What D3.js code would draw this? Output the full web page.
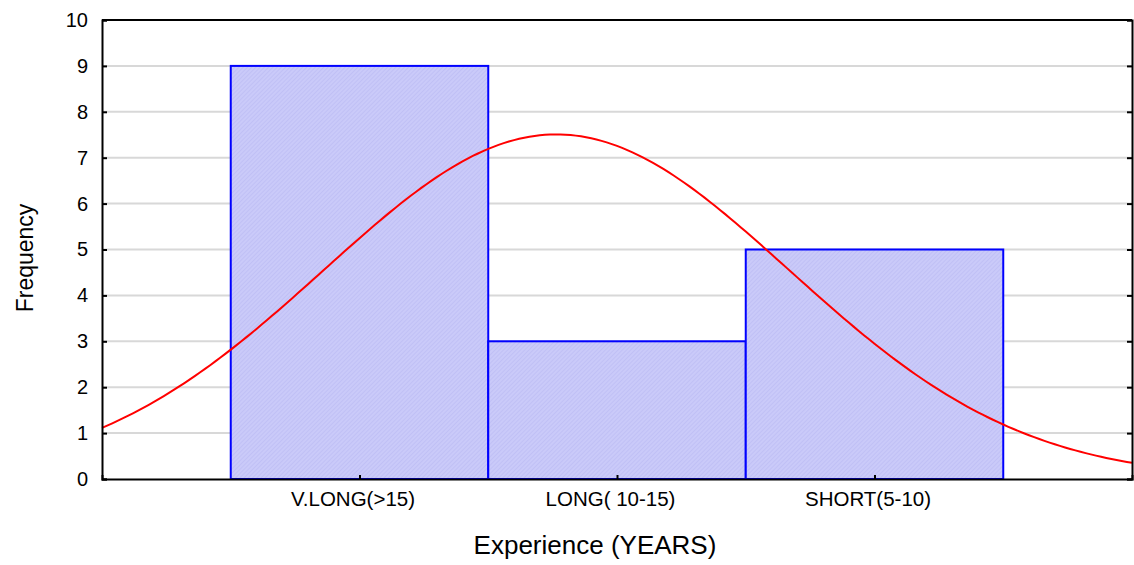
<!DOCTYPE html>
<html>
<head>
<meta charset="utf-8">
<script src="https://cdn.jsdelivr.net/npm/d3@7"></script>
<style>
body { margin: 0; background: #fff; }
text { font-family: Arial, "Liberation Sans", sans-serif; fill: #000; }
</style>
</head>
<body>
<div id="chart"></div>
<script>
var width = 1134;
var height = 565;

// histogram bins and counts
var categories = ["V.LONG(>15)", "LONG( 10-15)", "SHORT(5-10)"];
var frequencies = [9, 3, 5];
var yTicks = [0, 1, 2, 3, 4, 5, 6, 7, 8, 9, 10];

var plotLeft = 102, plotRight = 1132, plotTop = 20, plotBottom = 479;

var svg = d3.select("#chart")
	.append("svg")
	.attr("width", width)
	.attr("height", height);

// hatch pattern for the bars
var defs = svg.append("defs");
var pat = defs.append("pattern")
	.attr("id", "hatch")
	.attr("patternUnits", "userSpaceOnUse")
	.attr("width", 3)
	.attr("height", 3)
	.attr("patternTransform", "rotate(45)");
pat.append("rect").attr("width", 3).attr("height", 3).attr("fill", "#cacaf9");
pat.append("line").attr("x1", 0).attr("y1", 0).attr("x2", 0).attr("y2", 3)
	.attr("stroke", "#b6b6f2").attr("stroke-width", 1);

// bins sit at positions 1,2,3 on a 0..4 axis
var xScale = d3.scaleLinear().domain([0, categories.length + 1]).range([plotLeft, plotRight]);
var yScale = d3.scaleLinear().domain([0, 10]).range([plotBottom, plotTop]);

// gridlines
svg.append("g")
	.selectAll("line")
	.data(yTicks.filter(function(d) { return d > 0 && d < 10; }))
	.enter()
	.append("line")
	.attr("x1", plotLeft)
	.attr("x2", plotRight)
	.attr("y1", function(d) { return yScale(d); })
	.attr("y2", function(d) { return yScale(d); })
	.attr("stroke", "#d8d8d8")
	.attr("stroke-width", 2);

// bars
svg.append("g")
	.selectAll("rect")
	.data(frequencies)
	.enter()
	.append("rect")
	.attr("x", function(d, i) { return xScale(i + 0.5); })
	.attr("y", function(d) { return yScale(d); })
	.attr("width", function(d, i) { return xScale(i + 1.5) - xScale(i + 0.5); })
	.attr("height", function(d) { return yScale(0) - yScale(d); })
	.attr("fill", "url(#hatch)")
	.attr("stroke", "#0000ff")
	.attr("stroke-width", 2);

// fitted normal curve from the counts
var n = d3.sum(frequencies);
var mean = d3.sum(frequencies, function(d, i) { return d * (i + 1); }) / n;
var variance = d3.sum(frequencies, function(d, i) { return d * Math.pow(i + 1 - mean, 2); }) / (n - 1);
var sd = Math.sqrt(variance);
var xs = d3.range(0, categories.length + 1.001, 0.02);
var curve = d3.line()
	.x(function(d) { return xScale(d); })
	.y(function(d) {
		return yScale(n / (sd * Math.sqrt(2 * Math.PI)) * Math.exp(-Math.pow(d - mean, 2) / (2 * variance)));
	});
svg.append("path")
	.datum(xs)
	.attr("d", curve)
	.attr("fill", "none")
	.attr("stroke", "#ff0000")
	.attr("stroke-width", 2);

// axes
var yAxis = d3.axisLeft(yScale).tickValues(yTicks).tickSize(-5).tickPadding(14).tickFormat(d3.format("d"));
var gy = svg.append("g").attr("transform", "translate(" + plotLeft + ",0)").call(yAxis);
gy.selectAll("text").style("font-size", "20px");

var yAxisR = d3.axisRight(yScale).tickValues(yTicks).tickSize(-5).tickFormat("");
svg.append("g").attr("transform", "translate(" + plotRight + ",0)").call(yAxisR);

var xAxis = d3.axisBottom(xScale).tickValues([1, 2, 3]).tickSize(-4).tickPadding(12)
	.tickFormat(function(d) { return categories[d - 1]; });
var gx = svg.append("g").attr("transform", "translate(0," + plotBottom + ")").call(xAxis);
gx.selectAll("text").style("font-size", "20.5px").attr("dx", -7);

svg.append("line").attr("x1", plotLeft).attr("x2", plotRight).attr("y1", plotTop).attr("y2", plotTop)
	.attr("stroke", "#000").attr("stroke-width", 2);

svg.selectAll(".domain").attr("stroke", "#000").attr("stroke-width", 2);
svg.selectAll(".tick line").attr("stroke", "#000").attr("stroke-width", 2);

// titles
svg.append("text")
	.attr("x", 595)
	.attr("y", 554)
	.style("text-anchor", "middle")
	.style("font-size", "26px")
	.text("Experience (YEARS)");

svg.append("text")
	.attr("transform", "translate(33," + 258 + ") rotate(-90)")
	.style("text-anchor", "middle")
	.style("font-size", "23px")
	.text("Frequency");
</script>
</body>
</html>
